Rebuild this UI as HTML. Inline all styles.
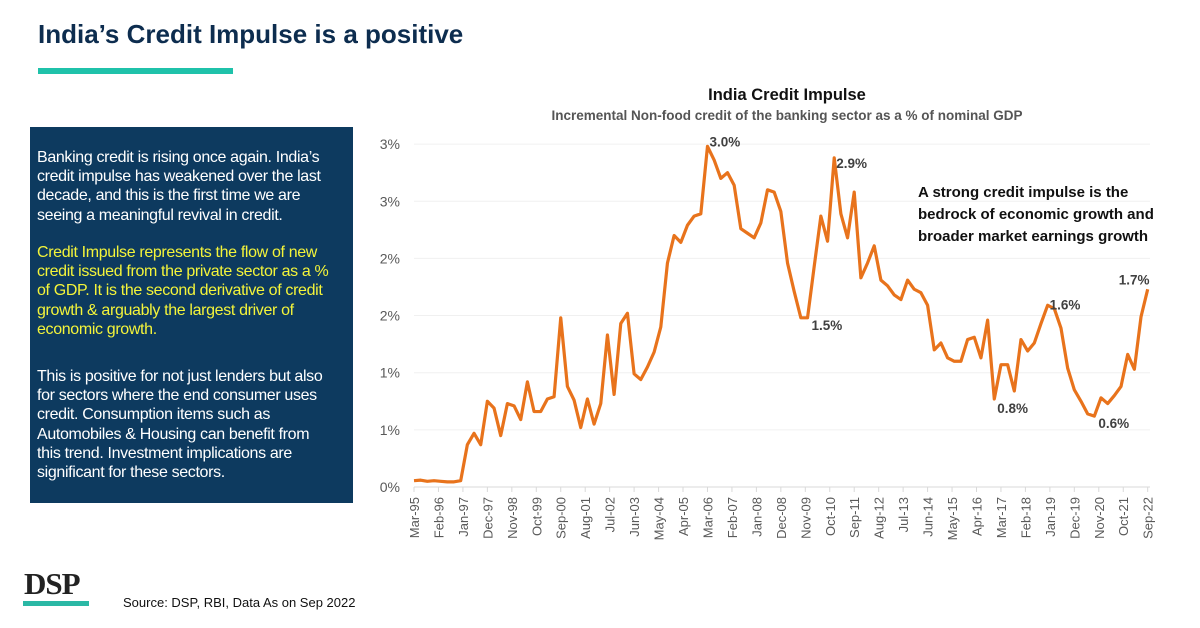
<!DOCTYPE html>
<html><head><meta charset="utf-8"><style>
body{margin:0;width:1200px;height:628px;background:#fff;position:relative;overflow:hidden;font-family:"Liberation Sans",sans-serif}
.abs{position:absolute;white-space:nowrap}
#panel{left:30px;top:127px;width:323px;height:376px;background:#0d3a5f}
#panel div{position:absolute;left:7px;font-size:16px;color:#fff;line-height:19.2px;letter-spacing:-0.35px}
</style></head><body>
<div class="abs" style="left:38px;top:19px;font-size:26px;font-weight:bold;color:#0d2d4f">India’s Credit Impulse is a positive</div>
<div class="abs" style="left:38px;top:68px;width:195px;height:6px;background:#1fc2aa"></div>
<div class="abs" id="panel">
<div style="top:21px">Banking credit is rising once again. India’s<br>credit impulse has weakened over the last<br>decade, and this is the first time we are<br>seeing a meaningful revival in credit.</div>
<div style="top:116px;color:#f4f43a">Credit Impulse represents the flow of new<br>credit issued from the private sector as a %<br>of GDP. It is the second derivative of credit<br>growth &amp; arguably the largest driver of<br>economic growth.</div>
<div style="top:240px">This is positive for not just lenders but also<br>for sectors where the end consumer uses<br>credit. Consumption items such as<br>Automobiles &amp; Housing can benefit from<br>this trend. Investment implications are<br>significant for these sectors.</div>
</div>
<div class="abs" style="left:24px;top:566px;font-family:'Liberation Serif',serif;font-weight:bold;font-size:31px;color:#222;letter-spacing:-1px">DSP</div>
<div class="abs" style="left:23px;top:601px;width:66px;height:5px;background:#2bb8a5"></div>
<div class="abs" style="left:123px;top:595px;font-size:13px;color:#111">Source: DSP, RBI, Data As on Sep 2022</div>
<svg id="chart" width="1200" height="628" style="position:absolute;left:0;top:0">
<text x="787" y="100" text-anchor="middle" font-size="16.5" font-weight="bold" fill="#111">India Credit Impulse</text>
<text x="787" y="120" text-anchor="middle" font-size="13.5" font-weight="bold" fill="#555">Incremental Non-food credit of the banking sector as a % of nominal GDP</text>
<g font-size="15" font-weight="bold" fill="#111">
<text x="918" y="197">A strong credit impulse is the</text>
<text x="918" y="219">bedrock of economic growth and</text>
<text x="918" y="241">broader market earnings growth</text>
</g>
</svg>
<script>
const yTicks=[0,0.5,1,1.5,2,2.5,3];
const yTickLabels=["0%","1%","1%","2%","2%","3%","3%"];
const xLabels=["Mar-95","Feb-96","Jan-97","Dec-97","Nov-98","Oct-99","Sep-00","Aug-01","Jul-02","Jun-03","May-04","Apr-05","Mar-06","Feb-07","Jan-08","Dec-08","Nov-09","Oct-10","Sep-11","Aug-12","Jul-13","Jun-14","May-15","Apr-16","Mar-17","Feb-18","Jan-19","Dec-19","Nov-20","Oct-21","Sep-22"];
const values=[0.055,0.06,0.05,0.055,0.05,0.045,0.045,0.055,0.37,0.47,0.37,0.75,0.69,0.45,0.73,0.71,0.59,0.92,0.66,0.66,0.77,0.79,1.48,0.88,0.76,0.52,0.77,0.55,0.73,1.33,0.81,1.43,1.52,0.99,0.94,1.05,1.18,1.40,1.96,2.20,2.14,2.29,2.37,2.39,2.98,2.86,2.70,2.75,2.64,2.26,2.22,2.18,2.31,2.60,2.58,2.41,1.96,1.71,1.48,1.48,1.93,2.37,2.15,2.88,2.39,2.18,2.58,1.83,1.96,2.11,1.81,1.76,1.68,1.64,1.81,1.73,1.70,1.59,1.20,1.26,1.13,1.10,1.10,1.29,1.31,1.13,1.46,0.77,1.07,1.07,0.84,1.29,1.19,1.26,1.43,1.59,1.56,1.39,1.04,0.85,0.75,0.64,0.62,0.78,0.73,0.80,0.88,1.16,1.03,1.49,1.73];
const annotIdx=[44,63,59,87,95,102,110];
const annotText=["3.0%","2.9%","1.5%","0.8%","1.6%","0.6%","1.7%"];
const annotDx=[2,2,4,3,2,4,-29];
const annotDy=[0,10,12,14,4,12,-5];
const NS="http://www.w3.org/2000/svg";
const svg=document.getElementById('chart');
const y=v=>487-v*114.3;
const xq=i=>414+i*6.67;
const xm=m=>414+m*6.67/3;
function mk(t,a){const e=document.createElementNS(NS,t);for(const k in a)e.setAttribute(k,a[k]);svg.appendChild(e);return e;}
yTicks.forEach((t,i)=>{
 const g=mk('line',{x1:414,x2:1150,y1:y(t),y2:y(t),stroke:i==0?'#d9d9d9':'#f0f0f0','stroke-width':1});
 
 
 const l=mk('text',{x:400,y:y(t)+5,'text-anchor':'end','font-size':14,fill:'#595959'});
 l.textContent=yTickLabels[i];
 
 
});
xLabels.forEach((s,k)=>{
 const xx=xm(k*11);
 const tk=mk('line',{x1:xx,x2:xx,y1:487,y2:492,stroke:'#d9d9d9'});
 
 
 const t=mk('text',{x:0,y:0,'text-anchor':'end','font-size':13,fill:'#595959',transform:`translate(${xx+5},497) rotate(-90)`});
 t.textContent=s;
 
 
});
const p=mk('polyline',{points:values.map((v,i)=>xq(i)+','+y(v)).join(' '),fill:'none',stroke:'#e8731c','stroke-width':3.2,'stroke-linejoin':'round'});


annotIdx.forEach((idx,k)=>{
 const t=mk('text',{x:xq(idx)+annotDx[k],y:y(values[idx])+annotDy[k],'font-size':13.5,'font-weight':'bold',fill:'#404040'});
 t.textContent=annotText[k];
 
 
});
</script>
</body></html>
